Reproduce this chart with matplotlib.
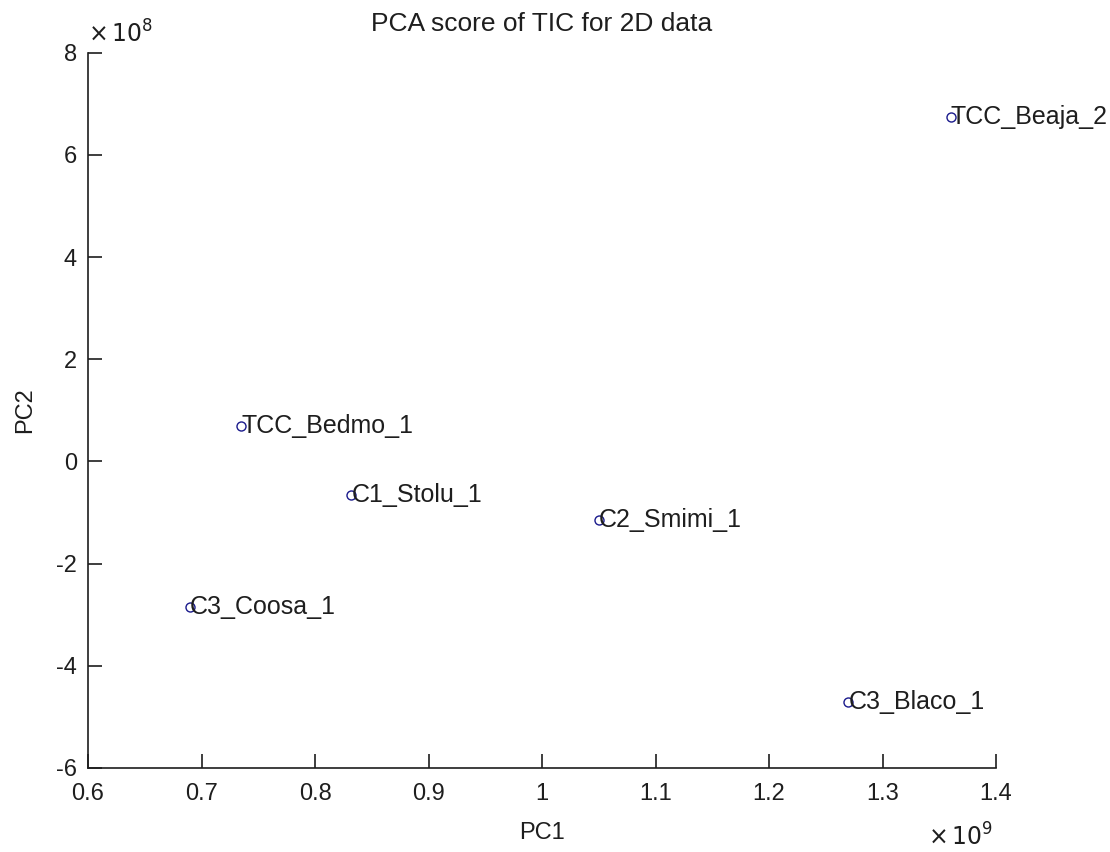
import matplotlib
matplotlib.use("Agg")
import matplotlib.pyplot as plt
from matplotlib.ticker import FuncFormatter, MultipleLocator

#scores on the first two principal components
samples = ['TCC_Beaja_2', 'TCC_Bedmo_1', 'C1_Stolu_1', 'C2_Smimi_1', 'C3_Coosa_1', 'C3_Blaco_1']
pc1 = [1.360e9, 0.735e9, 0.832e9, 1.050e9, 0.690e9, 1.270e9]
pc2 = [6.75e8, 0.70e8, -0.65e8, -1.15e8, -2.85e8, -4.70e8]

plt.rcParams['font.family'] = ['Liberation Sans', 'DejaVu Sans']
fs = 17
ink = '#1e1e1e'

fig = plt.figure(figsize=(11.1, 8.52), dpi=100)
ax = fig.add_axes([0.0793, 0.0986, 0.8180, 0.8394])

ax.plot(pc1, pc2, 'o', linestyle='none', markersize=6.5, markerfacecolor='none',
        markeredgecolor='#1a1a8c', markeredgewidth=1.0, clip_on=False)
for name, x, y in zip(samples, pc1, pc2):
    ax.text(x, y, name, ha='left', va='center', fontsize=18, color=ink, clip_on=False)

ax.set_xlim(0.6e9, 1.4e9)
ax.set_ylim(-6e8, 8e8)
ax.xaxis.set_major_locator(MultipleLocator(0.1e9))
ax.yaxis.set_major_locator(MultipleLocator(2e8))
ax.xaxis.set_major_formatter(FuncFormatter(lambda v, p: '%g' % round(v / 1e9, 3)))
ax.yaxis.set_major_formatter(FuncFormatter(lambda v, p: '%g' % round(v / 1e8, 3)))

ax.spines['top'].set_visible(False)
ax.spines['right'].set_visible(False)
for s in ['left', 'bottom']:
    ax.spines[s].set_linewidth(1.2)
    ax.spines[s].set_color(ink)
ax.tick_params(direction='in', length=10, width=1.2, labelsize=fs, colors=ink)
ax.tick_params(axis='x', pad=11)
ax.tick_params(axis='y', pad=8)

ax.set_title('PCA score of TIC for 2D data', fontsize=19, color=ink, pad=16)
ax.set_xlabel('PC1', fontsize=fs, color=ink, labelpad=12)
ax.set_ylabel('PC2', fontsize=fs, color=ink, labelpad=14)

#exponent labels
ax.text(0.0, 1.008, r'$\times\,10^{8}$', transform=ax.transAxes, ha='left', va='bottom',
        fontsize=fs, color=ink, math_fontfamily='dejavusans')
ax.text(0.997, -0.078, r'$\times\,10^{9}$', transform=ax.transAxes, ha='right', va='top',
        fontsize=fs, color=ink, math_fontfamily='dejavusans')

fig.savefig('out.png', dpi=100, facecolor='white')
